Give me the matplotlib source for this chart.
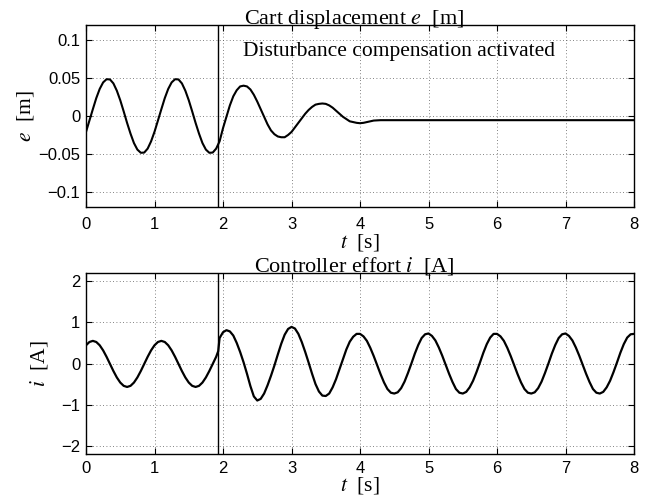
import numpy as np
import matplotlib
matplotlib.use("Agg")
import matplotlib.pyplot as plt

# cart displacement e [m]
t_e = [0.00, 0.05, 0.10, 0.15, 0.20, 0.25, 0.30, 0.35, 0.40, 0.45,
       0.50, 0.55, 0.60, 0.65, 0.70, 0.75, 0.80, 0.85, 0.90, 0.95,
       1.00, 1.05, 1.10, 1.15, 1.20, 1.25, 1.30, 1.35, 1.40, 1.45,
       1.50, 1.55, 1.60, 1.65, 1.70, 1.75, 1.80, 1.85, 1.90, 1.95,
       2.00, 2.05, 2.10, 2.15, 2.20, 2.25, 2.30, 2.35, 2.40, 2.45,
       2.50, 2.55, 2.60, 2.65, 2.70, 2.75, 2.80, 2.85, 2.90, 2.95,
       3.00, 3.05, 3.10, 3.15, 3.20, 3.25, 3.30, 3.35, 3.40, 3.45,
       3.50, 3.55, 3.60, 3.65, 3.70, 3.75, 3.80, 3.85, 3.90, 3.95,
       4.00, 4.05, 4.10, 4.15, 4.20, 4.30, 8.00]
e_vals = [-0.021, -0.006, 0.009, 0.0236, 0.0357, 0.0443, 0.0485, 0.0482, 0.0430, 0.0334,
          0.0208, 0.0061, -0.0092, -0.0233, -0.0357, -0.0443, -0.0485, -0.0482, -0.0430, -0.0334,
          -0.0208, -0.006, 0.009, 0.0236, 0.0357, 0.0443, 0.0485, 0.0482, 0.0430, 0.0334,
          0.0208, 0.0061, -0.0092, -0.0233, -0.0357, -0.0443, -0.0485, -0.0482, -0.0430, -0.0334,
          -0.016, -0.001, 0.014, 0.026, 0.034, 0.039, 0.040, 0.039, 0.035, 0.028,
          0.019, 0.009, -0.001, -0.011, -0.019, -0.024, -0.027, -0.028, -0.028, -0.025,
          -0.021, -0.015, -0.009, -0.003, 0.003, 0.008, 0.012, 0.015, 0.016, 0.0165,
          0.016, 0.014, 0.011, 0.007, 0.003, -0.001, -0.004, -0.007, -0.008, -0.009,
          -0.0095, -0.009, -0.008, -0.007, -0.006, -0.0055, -0.0055]

# controller effort i [A]
t_i = [0.00, 0.05, 0.10, 0.15, 0.20, 0.25, 0.30, 0.35, 0.40, 0.45,
       0.50, 0.55, 0.60, 0.65, 0.70, 0.75, 0.80, 0.85, 0.90, 0.95,
       1.00, 1.05, 1.10, 1.15, 1.20, 1.25, 1.30, 1.35, 1.40, 1.45,
       1.50, 1.55, 1.60, 1.65, 1.70, 1.75, 1.80, 1.85, 1.90, 1.93, 1.95,
       2.00, 2.05, 2.10, 2.15, 2.20, 2.25, 2.30, 2.35, 2.40, 2.45,
       2.50, 2.55, 2.60, 2.65, 2.70, 2.75, 2.80, 2.85, 2.90, 2.95,
       3.00, 3.05, 3.10, 3.15, 3.20, 3.25, 3.30, 3.35, 3.40, 3.45,
       3.50, 3.55, 3.60, 3.65, 3.70, 3.75, 3.80, 3.85, 3.90, 3.95,
       4.00, 4.05, 4.10, 4.15, 4.20, 4.25, 4.30, 4.35, 4.40, 4.45,
       4.50, 4.55, 4.60, 4.65, 4.70, 4.75, 4.80, 4.85, 4.90, 4.95,
       5.00, 5.05, 5.10, 5.15, 5.20, 5.25, 5.30, 5.35, 5.40, 5.45,
       5.50, 5.55, 5.60, 5.65, 5.70, 5.75, 5.80, 5.85, 5.90, 5.95,
       6.00, 6.05, 6.10, 6.15, 6.20, 6.25, 6.30, 6.35, 6.40, 6.45,
       6.50, 6.55, 6.60, 6.65, 6.70, 6.75, 6.80, 6.85, 6.90, 6.95,
       7.00, 7.05, 7.10, 7.15, 7.20, 7.25, 7.30, 7.35, 7.40, 7.45,
       7.50, 7.55, 7.60, 7.65, 7.70, 7.75, 7.80, 7.85, 7.90, 7.95, 8.00]
i_vals = [0.443, 0.523, 0.55, 0.523, 0.443, 0.319, 0.163, -0.01, -0.183, -0.339,
          -0.463, -0.543, -0.57, -0.543, -0.463, -0.339, -0.183, -0.01, 0.163, 0.319,
          0.443, 0.523, 0.55, 0.523, 0.443, 0.319, 0.163, -0.01, -0.183, -0.339,
          -0.463, -0.543, -0.57, -0.543, -0.463, -0.339, -0.183, -0.01, 0.163, 0.30, 0.62,
          0.76, 0.81, 0.78, 0.68, 0.50, 0.28, 0.03, -0.25, -0.55, -0.80,
          -0.90, -0.86, -0.73, -0.53, -0.30, -0.05, 0.22, 0.48, 0.70, 0.84,
          0.89, 0.85, 0.72, 0.52, 0.28, 0.02, -0.25, -0.50, -0.68, -0.78,
          -0.79, -0.73, -0.58, -0.38, -0.14, 0.10, 0.34, 0.53, 0.65, 0.72,
          0.72, 0.66, 0.55, 0.38, 0.18, -0.04, -0.26, -0.46, -0.62, -0.71,
          -0.73, -0.70, -0.60, -0.44, -0.23, 0.00, 0.24, 0.45, 0.62, 0.71,
          0.73, 0.67, 0.56, 0.39, 0.19, -0.03, -0.25, -0.45, -0.62, -0.71,
          -0.73, -0.69, -0.58, -0.42, -0.21, 0.02, 0.26, 0.47, 0.63, 0.72,
          0.72, 0.66, 0.55, 0.38, 0.18, -0.04, -0.26, -0.46, -0.62, -0.71,
          -0.73, -0.70, -0.60, -0.44, -0.23, 0.00, 0.24, 0.45, 0.62, 0.71,
          0.73, 0.67, 0.56, 0.39, 0.19, -0.03, -0.25, -0.45, -0.62, -0.71,
          -0.73, -0.69, -0.58, -0.42, -0.21, 0.02, 0.26, 0.47, 0.63, 0.71, 0.72]

t_switch = 1.93
x_ticks = [0, 1, 2, 3, 4, 5, 6, 7, 8]
e_ticks = [-0.1, -0.05, 0, 0.05, 0.1]
e_ticklabels = ["\u22120.1", "\u22120.05", "0", "0.05", "0.1"]
i_ticks = [-2, -1, 0, 1, 2]
i_ticklabels = ["\u22122", "\u22121", "0", "1", "2"]

plt.rcParams["mathtext.fontset"] = "stix"
plt.rcParams["font.family"] = "Liberation Sans"
serif = "Liberation Serif"

fig = plt.figure(figsize=(6.54, 5.01), dpi=100)
ax1 = fig.add_axes([0.1315, 0.5868, 0.838, 0.3633])
ax2 = fig.add_axes([0.1315, 0.0938, 0.838, 0.3613])


def style(ax, xpad, lpad):
    ax.set_xlim(0, 8)
    ax.set_xticks(x_ticks)
    ax.grid(True, linestyle=(0, (1, 3)), color="0.35", linewidth=0.6)
    ax.tick_params(direction="in", top=True, right=True, labelsize=12, length=4, width=0.8)
    ax.tick_params(axis="x", pad=xpad)
    ax.tick_params(axis="y", pad=4)
    for s in ax.spines.values():
        s.set_linewidth(1.0)
    ax.set_xlabel(r"$t$  [s]", family=serif, fontsize=15.5, labelpad=lpad)


ax1.plot(t_e, e_vals, color="black", lw=1.5)
ax1.axvline(t_switch, color="black", lw=1.0)
ax1.set_ylim(-0.12, 0.12)
ax1.set_yticks(e_ticks)
ax1.set_yticklabels(e_ticklabels)
ax1.set_ylabel(r"$e$  [m]", family=serif, fontsize=15.5, labelpad=2)
ax1.set_title(r"Cart displacement $e$  [m]", family=serif, fontsize=16, pad=1, x=0.49)
ax1.text(2.29, 0.085, "Disturbance compensation activated", family=serif,
         fontsize=15.5, va="center", ha="left")
style(ax1, 7, 0)

ax2.plot(t_i, i_vals, color="black", lw=1.6)
ax2.axvline(t_switch, color="black", lw=1.0)
ax2.set_ylim(-2.2, 2.2)
ax2.set_yticks(i_ticks)
ax2.set_yticklabels(i_ticklabels)
ax2.set_ylabel(r"$i$  [A]", family=serif, fontsize=15.5, labelpad=8)
ax2.set_title(r"Controller effort $i$  [A]", family=serif, fontsize=16, pad=1, x=0.49)
style(ax2, 5, -1)

fig.savefig("out.png", dpi=100)
